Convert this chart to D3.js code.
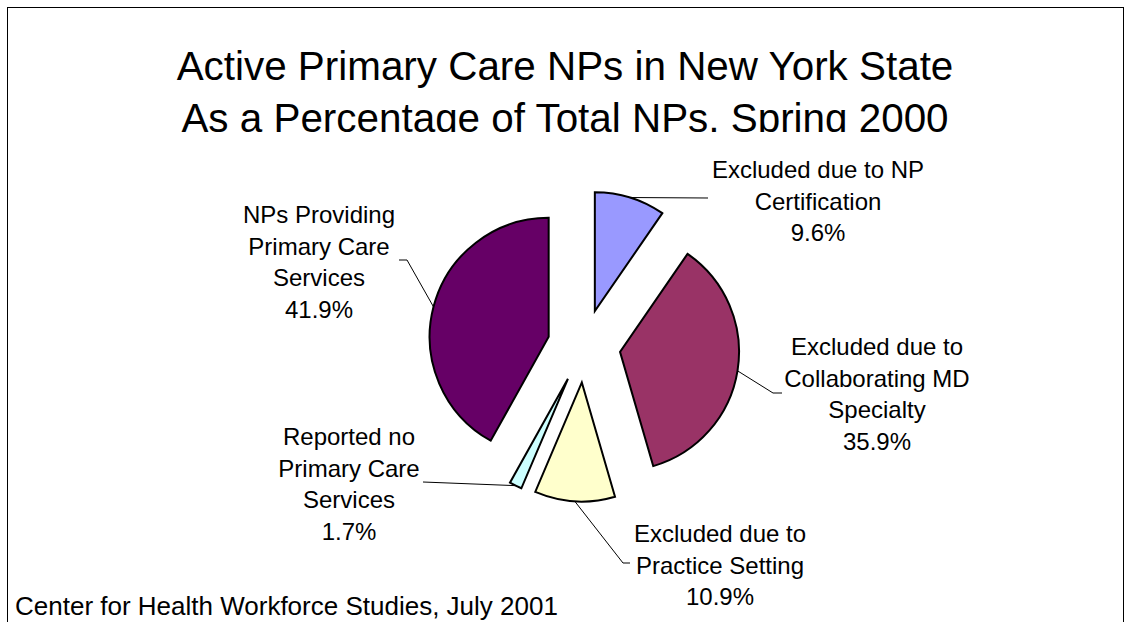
<!DOCTYPE html>
<html><head><meta charset="utf-8">
<script src="https://cdn.jsdelivr.net/npm/d3@7"></script>
<style>
body{margin:0;background:#fff}
svg{display:block}
text{font-family:"Liberation Sans",Arial,Helvetica,sans-serif;fill:#000}
</style>
</head><body>
<svg id="chart" width="1131" height="622"></svg>
<script>
// ---- data ----
const categories = [
  "Excluded due to NP Certification",
  "Excluded due to Collaborating MD Specialty",
  "Excluded due to Practice Setting",
  "Reported no Primary Care Services",
  "NPs Providing Primary Care Services"
];
const values = [9.6, 35.9, 10.9, 1.7, 41.9];
const labelLines = [
  ["Excluded due to NP", "Certification"],
  ["Excluded due to", "Collaborating MD", "Specialty"],
  ["Excluded due to", "Practice Setting"],
  ["Reported no", "Primary Care", "Services"],
  ["NPs Providing", "Primary Care", "Services"]
];
const colors = ["#9999FF", "#993366", "#FFFFCC", "#CCFFFF", "#660066"];
const titleLines = ["Active Primary Care NPs in New York State", "As a Percentage of Total NPs, Spring 2000"];
const footerText = "Center for Health Workforce Studies, July 2001";

// ---- layout ----
const W = 1131, H = 622;
const cx = 584, cy = 346, R = 119, explode = 36.5;
const lineH = 31.7;
const labelLayout = [
  {x: 818, y: 178, leader: [[708, 198]]},
  {x: 877, y: 355, leader: [[773, 393], [782, 393]]},
  {x: 720, y: 542, leader: [[623, 563], [630, 563]]},
  {x: 349, y: 445, leader: [[423, 482]]},
  {x: 319, y: 223, leader: [[407, 260], [399, 260]]}
];

const svg = d3.select("#chart");

// frame
svg.append("rect").attr("x", 7.5).attr("y", 7.5).attr("width", 1116).attr("height", 700)
  .attr("fill", "none").attr("stroke", "#000").attr("stroke-width", 1);

// title (clipped like the original)
svg.append("clipPath").attr("id", "tclip").append("rect")
  .attr("x", 0).attr("y", 0).attr("width", W).attr("height", 132);
const tg = svg.append("g").attr("clip-path", "url(#tclip)");
tg.selectAll("text").data(titleLines).join("text")
  .attr("x", 565).attr("y", (d, i) => 80 + i * 51.5)
  .attr("text-anchor", "middle").attr("font-size", 40.4).text(d => d);

// pie
const data = categories.map((c, i) => ({name: c, value: values[i], color: colors[i], lines: labelLines[i], lay: labelLayout[i]}));
const pie = d3.pie().sort(null).value(d => d.value).startAngle(0).endAngle(2 * Math.PI);
const arcs = pie(data);
const arc = d3.arc().innerRadius(0).outerRadius(R);
const rim = d3.arc().innerRadius(R).outerRadius(R);

const off = a => {
  const m = (a.startAngle + a.endAngle) / 2;
  return [explode * Math.sin(m), -explode * Math.cos(m)];
};

const pg = svg.append("g").attr("transform", `translate(${cx},${cy})`);
pg.selectAll("path").data(arcs).join("path")
  .attr("transform", d => `translate(${off(d)[0]},${off(d)[1]})`)
  .attr("d", arc)
  .attr("fill", d => d.data.color)
  .attr("stroke", "#000").attr("stroke-width", 2).attr("stroke-linejoin", "miter");

// leader lines
const line = d3.line();
svg.selectAll("path.leader").data(arcs).join("path").attr("class", "leader")
  .attr("d", d => {
    const o = off(d), c = rim.centroid(d);
    const start = [cx + o[0] + c[0], cy + o[1] + c[1]];
    return line([start, ...d.data.lay.leader]);
  })
  .attr("fill", "none").attr("stroke", "#000").attr("stroke-width", 1);

// labels
const fmt = d3.format(".1f");
const lg = svg.selectAll("text.lab").data(arcs).join("text").attr("class", "lab")
  .attr("text-anchor", "middle").attr("font-size", 24);
lg.each(function(d) {
  const t = d3.select(this);
  const all = [...d.data.lines, fmt(d.data.value) + "%"];
  all.forEach((s, i) => {
    t.append("tspan").attr("x", d.data.lay.x).attr("y", d.data.lay.y + i * lineH).text(s);
  });
});

// footer
svg.append("text").attr("x", 15).attr("y", 615).attr("font-size", 26).text(footerText);
</script>
</body></html>
